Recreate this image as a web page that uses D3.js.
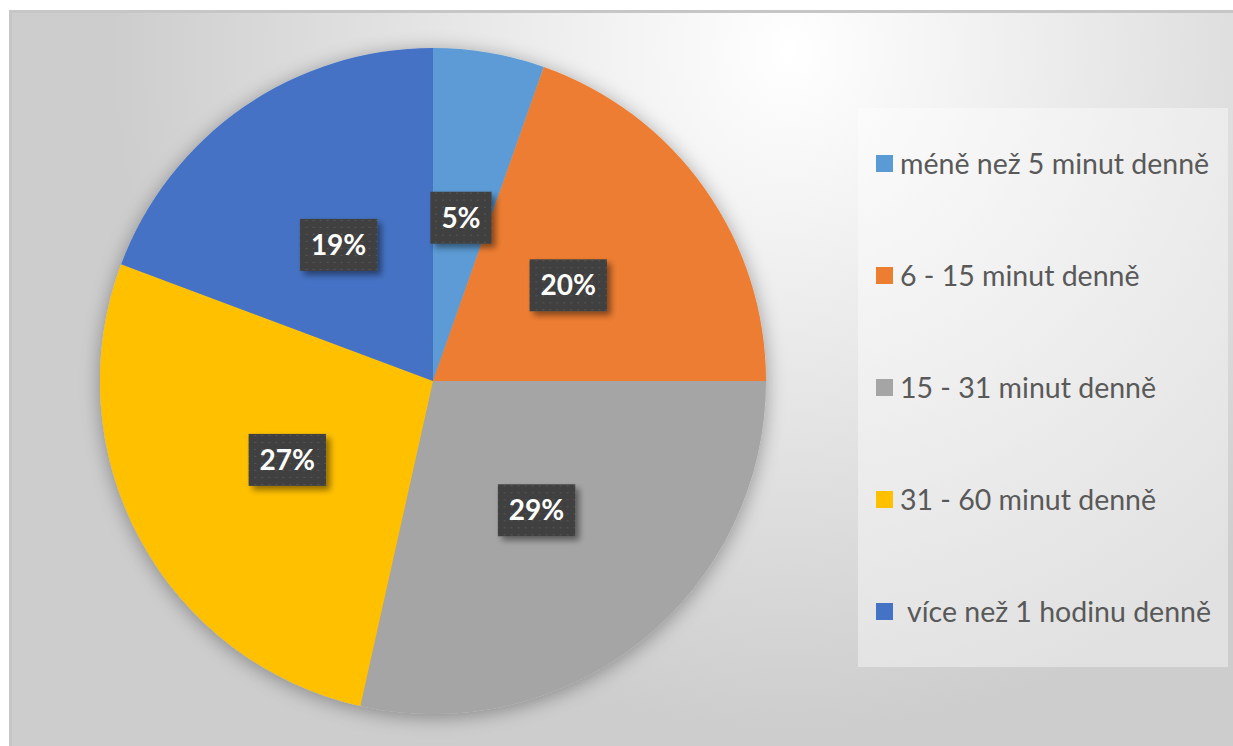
<!DOCTYPE html>
<html>
<head>
<meta charset="utf-8">
<script src="https://cdn.jsdelivr.net/npm/d3@7"></script>
<style>
html,body{margin:0;padding:0;background:#cdcdcd;overflow:hidden;}
svg{display:block;overflow:hidden;}
</style>
</head>
<body>
<svg id="chart" width="1320" height="820"></svg>
<script>
const categories = ["méně než 5 minut denně", "6 - 15 minut denně", "15 - 31 minut denně", "31 - 60 minut denně", "více než 1 hodinu denně"];
const values = [5.4, 19.6, 28.5, 27.2, 19.3];
const colors = ["#5B9BD5", "#ED7D31", "#A5A5A5", "#FFC000", "#4472C4"];

const W = 1320, H = 820;
const svg = d3.select("#chart");
const defs = svg.append("defs");

const bg = defs.append("radialGradient").attr("id","bg")
  .attr("gradientUnits","userSpaceOnUse").attr("cx",790).attr("cy",50).attr("r",680);
bg.append("stop").attr("offset","0").attr("stop-color","#ffffff");
bg.append("stop").attr("offset","0.25").attr("stop-color","#f3f3f3");
bg.append("stop").attr("offset","1").attr("stop-color","#cdcdcd");

const glow = defs.append("filter").attr("id","glow").attr("x","-20%").attr("y","-20%").attr("width","140%").attr("height","140%");
glow.append("feGaussianBlur").attr("in","SourceAlpha").attr("stdDeviation",10).attr("result","b");
glow.append("feOffset").attr("in","b").attr("dx",0).attr("dy",3).attr("result","o");
glow.append("feComponentTransfer").attr("in","o").attr("result","s")
  .append("feFuncA").attr("type","linear").attr("slope",0.35);
const gm = glow.append("feMerge");
gm.append("feMergeNode").attr("in","s");
gm.append("feMergeNode").attr("in","SourceGraphic");

const shadow = defs.append("filter").attr("id","lshadow").attr("x","-30%").attr("y","-30%").attr("width","160%").attr("height","160%");
shadow.append("feGaussianBlur").attr("in","SourceAlpha").attr("stdDeviation",3).attr("result","b");
shadow.append("feOffset").attr("in","b").attr("dx",4).attr("dy",4).attr("result","o");
shadow.append("feComponentTransfer").attr("in","o").attr("result","s")
  .append("feFuncA").attr("type","linear").attr("slope",0.45);
const sm = shadow.append("feMerge");
sm.append("feMergeNode").attr("in","s");
sm.append("feMergeNode").attr("in","SourceGraphic");

const pat = defs.append("pattern").attr("id","dots").attr("patternUnits","userSpaceOnUse")
  .attr("width",7).attr("height",7);
pat.append("rect").attr("width",7).attr("height",7).attr("fill","#404040");
pat.append("rect").attr("x",2).attr("y",3).attr("width",2).attr("height",1).attr("fill","#575757");

// background
svg.append("rect").attr("x",0).attr("y",0).attr("width",W).attr("height",H).attr("fill","#ffffff");
svg.append("rect").attr("x",10.5).attr("y",11.5).attr("width",W+20).attr("height",H+20)
  .attr("fill","url(#bg)").attr("stroke","#c6c6c6").attr("stroke-width",3);

// pie
const cx = 433, cy = 381, R = 333;
const pie = d3.pie().sort(null).value(d => d)(values);
const arc = d3.arc().innerRadius(0).outerRadius(R);
const labelArc = d3.arc().innerRadius(0).outerRadius(R * 0.995);

const g = svg.append("g").attr("transform",`translate(${cx},${cy})`);
g.append("g").attr("filter","url(#glow)")
  .selectAll("path").data(pie).join("path")
  .attr("d", arc).attr("fill",(d,i)=>colors[i]);

// labels
const lab = g.selectAll("g.lab").data(pie).join("g").attr("class","lab")
  .attr("transform", d => `translate(${labelArc.centroid(d)})`);
lab.each(function(d){
  const sel = d3.select(this);
  const t = sel.append("text").attr("text-anchor","middle").attr("dy","0.36em")
    .attr("font-family","Lato, 'Open Sans', sans-serif").attr("font-weight","bold")
    .attr("font-size",28).attr("fill","#ffffff")
    .text(Math.round(d.data) + "%");
  const bb = t.node().getBBox();
  const bw = bb.width + 22, bh = 52;
  sel.insert("rect","text").attr("x",-bw/2).attr("y",-bh/2).attr("width",bw).attr("height",bh)
    .attr("fill","url(#dots)").attr("filter","url(#lshadow)");
});

// legend
const lx = 858, ly = 108, lw = 370, lh = 559;
svg.append("rect").attr("x",lx).attr("y",ly).attr("width",lw).attr("height",lh)
  .attr("fill","#ffffff").attr("fill-opacity",0.4);
const rowY = d3.scalePoint().domain(categories).range([164, 612]);
const leg = svg.append("g").selectAll("g").data(categories).join("g")
  .attr("transform", d => `translate(876,${rowY(d)})`);
leg.append("rect").attr("x",0).attr("y",-9).attr("width",17).attr("height",17)
  .attr("fill",(d,i)=>colors[i]);
leg.append("text").attr("x",(d,i)=> i===4 ? 31 : 24).attr("dy","0.35em")
  .attr("font-family","Lato, 'Open Sans', sans-serif").attr("font-size",28.5)
  .attr("fill","#595959").text(d=>d);
</script>
</body>
</html>
